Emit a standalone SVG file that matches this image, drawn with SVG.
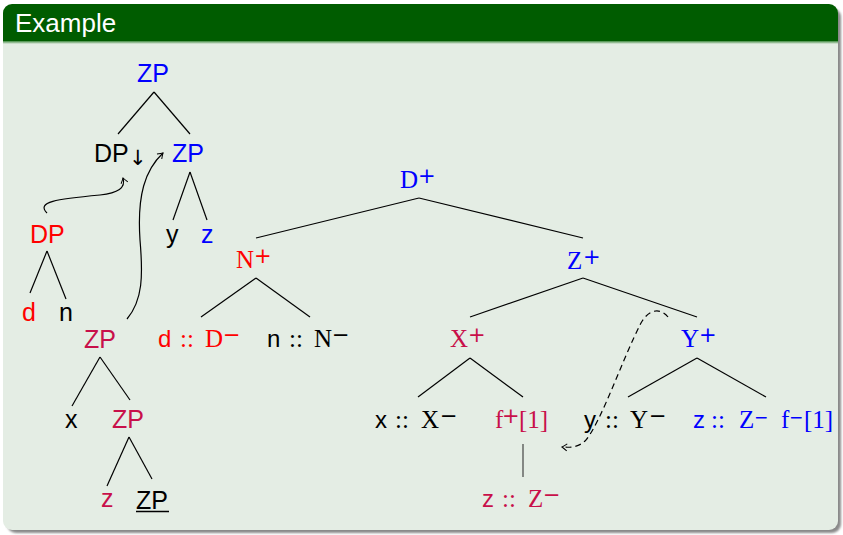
<svg xmlns="http://www.w3.org/2000/svg" width="843" height="535" viewBox="0 0 843 535">
<style>
.s{font-family:"Liberation Sans","Arial",sans-serif;font-size:25px}
.sl{font-family:"Liberation Sans","Arial",sans-serif;font-size:24px}
.r{font-family:"Liberation Serif","Times New Roman",serif;font-size:25px}
.sup{font-family:"DejaVu Sans",sans-serif;font-size:21px}
.sup2{font-family:"DejaVu Sans",sans-serif;font-size:17px}
.blue{fill:#0000ff}.red{fill:#ff0000}.crim{fill:#c8104a}.blk{fill:#000}
.e line,.e path{stroke:#000;stroke-width:1.2;fill:none}
</style>
<defs>
<filter id="sh" x="-5%" y="-5%" width="110%" height="110%"><feGaussianBlur stdDeviation="1.2"/></filter>
<linearGradient id="hg" x1="0" y1="0" x2="0" y2="1"><stop offset="0" stop-color="#3f8a3f"/><stop offset="1" stop-color="#e4ede4"/></linearGradient>
<marker id="ar" markerWidth="10" markerHeight="10" viewBox="-6 -5 8 10" refX="0" refY="0" orient="auto" markerUnits="userSpaceOnUse">
<path d="M -5 -3.5 Q -1.5 -0.8 0 0 Q -1.5 0.8 -5 3.5" fill="none" stroke="#000" stroke-width="1"/>
</marker>
</defs>
<g id="frame">
<rect x="7" y="8" width="834" height="525" rx="9" fill="#8a8a8a" filter="url(#sh)"/>
<rect x="3" y="4" width="835" height="526" rx="9" fill="#e4ede4"/>
<path d="M3 41 V13 A9 9 0 0 1 12 4 H829 A9 9 0 0 1 838 13 V41 Z" fill="#005c00"/>
<rect x="3" y="41" width="835" height="3" fill="url(#hg)"/>
<text x="15" y="31.5" font-family="Liberation Sans, Arial, sans-serif" font-size="26" fill="#ffffff">Example</text>
</g>
<g id="edges" class="e">
<line x1="154" y1="92" x2="118" y2="134"/>
<line x1="154" y1="92" x2="190" y2="134"/>
<line x1="190" y1="172" x2="173" y2="220"/>
<line x1="190" y1="172" x2="207" y2="220"/>
<line x1="47" y1="251" x2="30" y2="293"/>
<line x1="47" y1="251" x2="66" y2="299"/>
<line x1="100" y1="357" x2="72" y2="406"/>
<line x1="100" y1="357" x2="130" y2="400"/>
<line x1="129" y1="437" x2="107" y2="486"/>
<line x1="129" y1="437" x2="152" y2="479"/>
<path d="M 47 213 C 36 202, 56 199, 100 195 C 118 193, 126 188, 123 178" marker-end="url(#ar)"/>
<path d="M 127 319 C 143 300, 143 275, 140 240 C 137 195, 145 170, 163 153" marker-end="url(#ar)"/>
<line x1="419" y1="198" x2="256" y2="238"/>
<line x1="419" y1="198" x2="583" y2="238"/>
<line x1="256" y1="278" x2="201" y2="317"/>
<line x1="256" y1="278" x2="310" y2="317"/>
<line x1="583" y1="278" x2="470" y2="317"/>
<line x1="583" y1="278" x2="697" y2="317"/>
<line x1="470" y1="358" x2="418" y2="397"/>
<line x1="470" y1="358" x2="523" y2="397"/>
<line x1="697" y1="358" x2="628" y2="397"/>
<line x1="697" y1="358" x2="766" y2="397"/>
<line x1="523" y1="444" x2="523" y2="477" style="stroke:#444"/>
<path d="M 668 317 C 662 309, 650 307, 641 323 C 622 360, 602 420, 586 440 C 580 446, 574 448, 562 447" stroke-dasharray="6,4" marker-end="url(#ar)"/>
</g>
<g id="n-zp-root"><text x="137" y="82" class="s blue">ZP</text></g>
<g id="n-dp-down"><text x="94" y="162" class="s blk">DP</text><text x="129" y="165" font-family="DejaVu Sans, sans-serif" font-size="21" fill="#000">↓</text></g>
<g id="n-zp-blue"><text x="172" y="162" class="s blue">ZP</text></g>
<g id="n-y"><text x="166" y="243" class="s blk">y</text></g>
<g id="n-z-blue"><text x="201" y="243" class="s blue">z</text></g>
<g id="n-dp-red"><text x="30" y="243" class="s red">DP</text></g>
<g id="n-d"><text x="22" y="321" class="s red">d</text></g>
<g id="n-n"><text x="59" y="321" class="s blk">n</text></g>
<g id="n-zp-crim"><text x="84" y="348" class="s crim">ZP</text></g>
<g id="n-x"><text x="65" y="428" class="s blk">x</text></g>
<g id="n-zp-crim2"><text x="112" y="428" class="s crim">ZP</text></g>
<g id="n-z-crim"><text x="101" y="507" class="s crim">z</text></g>
<g id="n-zp-under"><text x="136" y="509" class="s blk">ZP</text><line x1="136" y1="511.5" x2="169" y2="511.5" stroke="#000" stroke-width="1.3"/></g>

<g id="n-dplus"><text x="400" y="188" class="r blue">D</text><text x="418" y="183" class="sup blue">+</text></g>
<g id="n-nplus"><text x="236" y="268" class="r red">N</text><text x="254" y="263" class="sup red">+</text></g>
<g id="n-zplus"><text x="567" y="269" class="r blue">Z</text><text x="583" y="264" class="sup blue">+</text></g>
<g id="n-d-D"><text x="158" y="347" class="sl red">d</text><text x="180" y="347" class="r red">::</text><text x="205" y="347" class="r red">D</text><text x="223" y="342" class="sup red">−</text></g>
<g id="n-n-N"><text x="267" y="347" class="sl blk">n</text><text x="289" y="347" class="r blk">::</text><text x="314" y="347" class="r blk">N</text><text x="332" y="342" class="sup blk">−</text></g>
<g id="n-xplus"><text x="450" y="347" class="r crim">X</text><text x="468" y="342" class="sup crim">+</text></g>
<g id="n-yplus"><text x="681" y="347" class="r blue">Y</text><text x="699" y="342" class="sup blue">+</text></g>
<g id="n-x-X"><text x="375" y="428" class="sl blk">x</text><text x="395" y="428" class="r blk">::</text><text x="421" y="428" class="r blk">X</text><text x="440" y="423" class="sup blk">−</text></g>
<g id="n-f1"><text x="495" y="428" class="r crim">f</text><text x="502" y="423" class="sup crim">+</text><text x="519" y="428" class="r crim">[1]</text></g>
<g id="n-z-Z-crim"><text x="482" y="507" class="sl crim">z</text><text x="502" y="507" class="r crim">::</text><text x="528" y="507" class="r crim">Z</text><text x="543" y="502" class="sup crim">−</text></g>
<g id="n-y-Y"><text x="584" y="428" class="sl blk">y</text><text x="605" y="428" class="r blk">::</text><text x="630" y="428" class="r blk">Y</text><text x="649" y="423" class="sup blk">−</text></g>
<g id="n-z-Z-blue"><text x="693" y="428" class="sl blue">z</text><text x="711" y="428" class="r blue">::</text><text x="739" y="428" class="r blue">Z</text><text x="754" y="423" class="sup2 blue">−</text><text x="781" y="428" class="r blue">f</text><text x="789" y="423" class="sup2 blue">−</text><text x="804" y="428" class="r blue">[1]</text></g>
</svg>
